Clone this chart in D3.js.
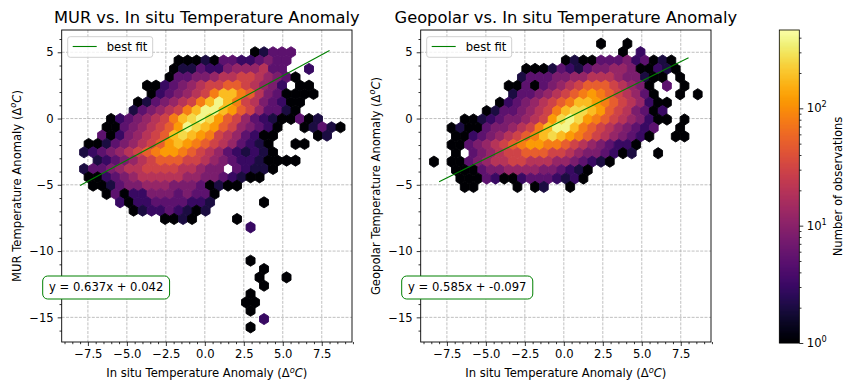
<!DOCTYPE html>
<html><head><meta charset="utf-8">
<script src="https://cdn.jsdelivr.net/npm/d3@7"></script>
<style>
body{margin:0;background:#fff}
svg{display:block}
text{font-family:"DejaVu Sans",sans-serif;fill:#000}
</style>
</head><body>
<svg id="chart" width="845" height="385"></svg>
<script>
// ---------------- data ----------------
const titles = ["MUR vs. In situ Temperature Anomaly", "Geopolar vs. In situ Temperature Anomaly"];
const yLabels = ["MUR Temperature Anomaly", "Geopolar Temperature Anomaly"];
const xLabel = "In situ Temperature Anomaly";
const xTicks = [-7.5, -5, -2.5, 0, 2.5, 5, 7.5];
const yTicks = [5, 0, -5, -10, -15];
const cbarTicks = [1, 10, 100];
const cbarLabel = "Number of observations";
const colorMax = 465;
const fitSlopes = [0.637, 0.585];
const fitIntercepts = [0.042, -0.097];
const fitRange = [-8, 8];
const equations = ["y = 0.637x + 0.042", "y = 0.585x + -0.097"];
const legendLabel = "best fit";
const xDomain = [-9.18, 9.44];
const yDomain = [-16.86, 6.68];

// hexbin lattices (data units): column spacing, half-row spacing, origins
const murGrid = {sx: 0.577, dy: 0.629, y0: 5.0, r0: 0, xEven: -8.32, xOdd: -8.03};
const geoGrid = {sx: 0.564, dy: 0.6357, y0: 5.01, r0: -1, xEven: -8.05, xOdd: -8.33};

// count (code -> observations)
const levelCounts = {"1":1,"2":2,"3":3,"4":5,"5":8,"6":12,"7":20,"8":30,"9":50,"a":80,"b":120,"c":180,"d":260,"e":390};

// one entry per hex row (top to bottom): [first column, codes]
const murRows = [
  [20,"12444"],
  [11,"1112144334544"],
  [11,"1224335666744..3"],
  [10,"144556778876541"],
  [8,"1134567889987653.11"],
  [8,"1345678acca97541111"],
  [7,"1245678aceca8754311"],
  [6,"245678aceecb9864421"],
  [4,"1345678acdedb98643211412"],
  [3,"11456789bedcb9865431..12421"],
  [3,"41356789cdcba8764311....12"],
  [1,"112456789bcba98764321..11"],
  [1,"23456789abba9876432321"],
  [2,"23456789998876543321111"],
  [1,"2445677888877655.43221"],
  [1,"11345677777665543211"],
  [2,"11245566655541211"],
  [3,"1413355545441"],
  [5,"31334444332.....1"],
  [6,"123343212"],
  [10,"1121....1"],
  [19,"3"],
  [0,""],
  [0,""],
  [0,""],
  [19,"1"],
  [21,"1"],
  [20,"1..1"],
  [21,"1"],
  [19,"1"],
  [19,"11"],
  [19,"1"],
  [21,"3"],
  [19,"1"]
];
const geoRows = [
  [19,"1..1"],
  [21,"1.3"],
  [15,"1211444534121"],
  [10,"111243245566511321"],
  [10,"24445566777655211.1"],
  [8,"11414567899987651.4.1"],
  [9,"24456789aba987641..1.1"],
  [7,"13456789accba9876311"],
  [6,"12445678acddcb9875413"],
  [3,"1123455678bdedba98765311.1"],
  [2,"1211455678aceeca98765434..1"],
  [2,"113456789acdcba98765431..11"],
  [2,"11456789abbaa987654331"],
  [2,"1.4567889998876554312..1"],
  [0,"1.1145677887776654321"],
  [2,"1114556666554321"],
  [3,"111431134443231"],
  [3,"11....1.12..1"]
];

// ---------------- drawing ----------------
const svg = d3.select("#chart");
const font = "DejaVu Sans, sans-serif";
const color = d3.scaleSequentialLog(d3.interpolateInferno).domain([1, colorMax]);
const panelBoxes = [{x:61.7, y:30, w:290.3, h:312}, {x:420.7, y:30, w:290.3, h:312}];
const fmtX = d3.format(".1f"), fmtY = d3.format("d");

function drawPanel(idx, rows, grid) {
  const b = panelBoxes[idx];
  const x = d3.scaleLinear().domain(xDomain).range([b.x, b.x + b.w]);
  const y = d3.scaleLinear().domain(yDomain).range([b.y + b.h, b.y]);
  const clipId = "clip" + idx;
  svg.append("clipPath").attr("id", clipId).append("rect")
    .attr("x", b.x).attr("y", b.y).attr("width", b.w).attr("height", b.h);

  // grid (below the hexagons)
  const grid_g = svg.append("g").attr("stroke", "#b0b0b0").attr("stroke-width", 0.8)
    .attr("stroke-dasharray", "3,1.3");
  grid_g.selectAll("line.gx").data(xTicks).join("line")
    .attr("x1", d => x(d)).attr("x2", d => x(d)).attr("y1", b.y).attr("y2", b.y + b.h);
  grid_g.selectAll("line.gy").data(yTicks).join("line")
    .attr("y1", d => y(d)).attr("y2", d => y(d)).attr("x1", b.x).attr("x2", b.x + b.w);

  const cells = [];
  rows.forEach(([start, codes], k) => {
    const r = grid.r0 + k;
    const odd = Math.abs(r % 2) === 1;
    const xs = odd ? grid.xOdd : grid.xEven;
    const cy = grid.y0 - r * grid.dy;
    [...codes].forEach((ch, j) => {
      if (ch === ".") return;
      cells.push({cx: xs + (start + j) * grid.sx, cy, n: levelCounts[ch]});
    });
  });
  const hs = grid.sx / 2, v1 = grid.dy / 3, v2 = grid.dy * 2 / 3;
  const g = svg.append("g").attr("clip-path", `url(#${clipId})`);
  g.selectAll("path.hex").data(cells).join("path").attr("class", "hex")
    .attr("d", d => {
      const pts = [[d.cx + hs, d.cy + v1], [d.cx + hs, d.cy - v1], [d.cx, d.cy - v2],
                   [d.cx - hs, d.cy - v1], [d.cx - hs, d.cy + v1], [d.cx, d.cy + v2]];
      return "M" + pts.map(p => x(p[0]).toFixed(2) + "," + y(p[1]).toFixed(2)).join("L") + "Z";
    })
    .attr("fill", d => color(d.n)).attr("stroke", d => color(d.n)).attr("stroke-width", 0.9);

  // best fit
  const fit = fitRange.map(v => [v, fitSlopes[idx] * v + fitIntercepts[idx]]);
  svg.append("path").attr("d", d3.line().x(d => x(d[0])).y(d => y(d[1]))(fit))
    .attr("stroke", "green").attr("stroke-width", 1.1).attr("fill", "none");

  // frame
  svg.append("rect").attr("x", b.x).attr("y", b.y).attr("width", b.w).attr("height", b.h)
    .attr("fill", "none").attr("stroke", "#000").attr("stroke-width", 0.9);

  // axes
  const ax = svg.append("g").attr("transform", `translate(0,${b.y + b.h})`)
    .call(d3.axisBottom(x).tickValues(xTicks).tickFormat(fmtX).tickSize(4).tickPadding(4));
  const axm = svg.append("g").attr("transform", `translate(0,${b.y + b.h})`)
    .call(d3.axisBottom(x).tickValues(d3.range(-9, 9.51, 0.5).filter(v => v % 2.5 !== 0)).tickFormat("").tickSize(2.2));
  const ay = svg.append("g").attr("transform", `translate(${b.x},0)`)
    .call(d3.axisLeft(y).tickValues(yTicks).tickFormat(fmtY).tickSize(4).tickPadding(4));
  const aym = svg.append("g").attr("transform", `translate(${b.x},0)`)
    .call(d3.axisLeft(y).tickValues(d3.range(-16, 6.5, 1).filter(v => v % 5 !== 0)).tickFormat("").tickSize(2.2));
  [ax, axm, ay, aym].forEach(a => {
    a.select(".domain").remove();
    a.selectAll("line").attr("stroke", "#000").attr("stroke-width", 0.8);
    a.selectAll("text").attr("font-family", font).attr("font-size", 11.6).attr("fill", "#000");
  });

  // title
  svg.append("text").attr("x", b.x + b.w / 2).attr("y", 22.5).attr("text-anchor", "middle")
    .attr("font-size", 16.3).text(titles[idx]);
  // x label
  const xl = svg.append("text").attr("x", b.x + b.w / 2).attr("y", 377).attr("text-anchor", "middle")
    .attr("font-size", 11.6);
  xl.append("tspan").text(xLabel + " (\u0394");
  xl.append("tspan").attr("font-style", "italic").attr("font-size", 8.2).attr("dy", -4.5).text("o");
  xl.append("tspan").attr("font-style", "italic").attr("dy", 4.5).text("C");
  xl.append("tspan").text(")");
  // y label
  const yl = svg.append("text").attr("transform", `translate(${b.x - 41.2},${b.y + b.h / 2}) rotate(-90)`)
    .attr("text-anchor", "middle").attr("font-size", 11.6);
  yl.append("tspan").text(yLabels[idx] + " (\u0394");
  yl.append("tspan").attr("font-style", "italic").attr("font-size", 8.2).attr("dy", -4.5).text("o");
  yl.append("tspan").attr("font-style", "italic").attr("dy", 4.5).text("C");
  yl.append("tspan").text(")");

  // legend
  svg.append("rect").attr("x", b.x + 6).attr("y", 36.7).attr("width", 85).attr("height", 20.6)
    .attr("rx", 2.5).attr("fill", "#fff").attr("fill-opacity", 0.8).attr("stroke", "#cccccc").attr("stroke-width", 0.9);
  svg.append("line").attr("x1", b.x + 11).attr("x2", b.x + 35).attr("y1", 46.5).attr("y2", 46.5)
    .attr("stroke", "green").attr("stroke-width", 1.1);
  svg.append("text").attr("x", b.x + 45).attr("y", 50.7).attr("font-size", 11.6).text(legendLabel);

  // equation box
  const eq = svg.append("text").attr("x", b.x - 12.7).attr("y", 291).attr("font-size", 11.6).text(equations[idx]);
  const bb = eq.node().getBBox();
  svg.insert("rect", () => eq.node()).attr("x", bb.x - 6.3).attr("y", 276).attr("width", bb.width + 12.6).attr("height", 23)
    .attr("rx", 5).attr("fill", "#fff").attr("stroke", "green").attr("stroke-width", 1);
}

drawPanel(0, murRows, murGrid);
drawPanel(1, geoRows, geoGrid);

// colorbar
const cb = {x: 779.3, y: 30, w: 20, h: 313};
const cy = d3.scaleLog().domain([1, colorMax]).range([cb.y + cb.h, cb.y]);
const steps = d3.range(0, cb.h, 1);
svg.append("g").selectAll("rect").data(steps).join("rect")
  .attr("x", cb.x).attr("width", cb.w)
  .attr("y", d => cb.y + cb.h - d - 1.2).attr("height", 1.4)
  .attr("fill", d => color(cy.invert(cb.y + cb.h - d - 0.5)));
svg.append("rect").attr("x", cb.x).attr("y", cb.y).attr("width", cb.w).attr("height", cb.h)
  .attr("fill", "none").attr("stroke", "#000").attr("stroke-width", 0.8);
const minorC = [];
[1, 10, 100].forEach(dec => { for (let k = 2; k <= 9; k++) if (dec * k <= colorMax) minorC.push(dec * k); });
const cax = svg.append("g").attr("transform", `translate(${cb.x + cb.w},0)`)
  .call(d3.axisRight(cy).tickValues(cbarTicks).tickFormat("").tickSize(4));
const caxm = svg.append("g").attr("transform", `translate(${cb.x + cb.w},0)`)
  .call(d3.axisRight(cy).tickValues(minorC).tickFormat("").tickSize(2.2));
[cax, caxm].forEach(a => { a.select(".domain").remove(); a.selectAll("line").attr("stroke", "#000").attr("stroke-width", 0.8); });
cbarTicks.forEach(v => {
  const t = svg.append("text").attr("x", cb.x + cb.w + 7.5).attr("y", cy(v)).attr("dy", "0.35em").attr("font-size", 11.6);
  t.append("tspan").text("10");
  t.append("tspan").attr("font-size", 8.2).attr("dy", -5).text(String(Math.round(Math.log10(v))));
});
svg.append("text").attr("transform", `translate(841.5,${cb.y + cb.h / 2}) rotate(-90)`)
  .attr("text-anchor", "middle").attr("font-size", 11.6).text(cbarLabel);
</script>
</body></html>
